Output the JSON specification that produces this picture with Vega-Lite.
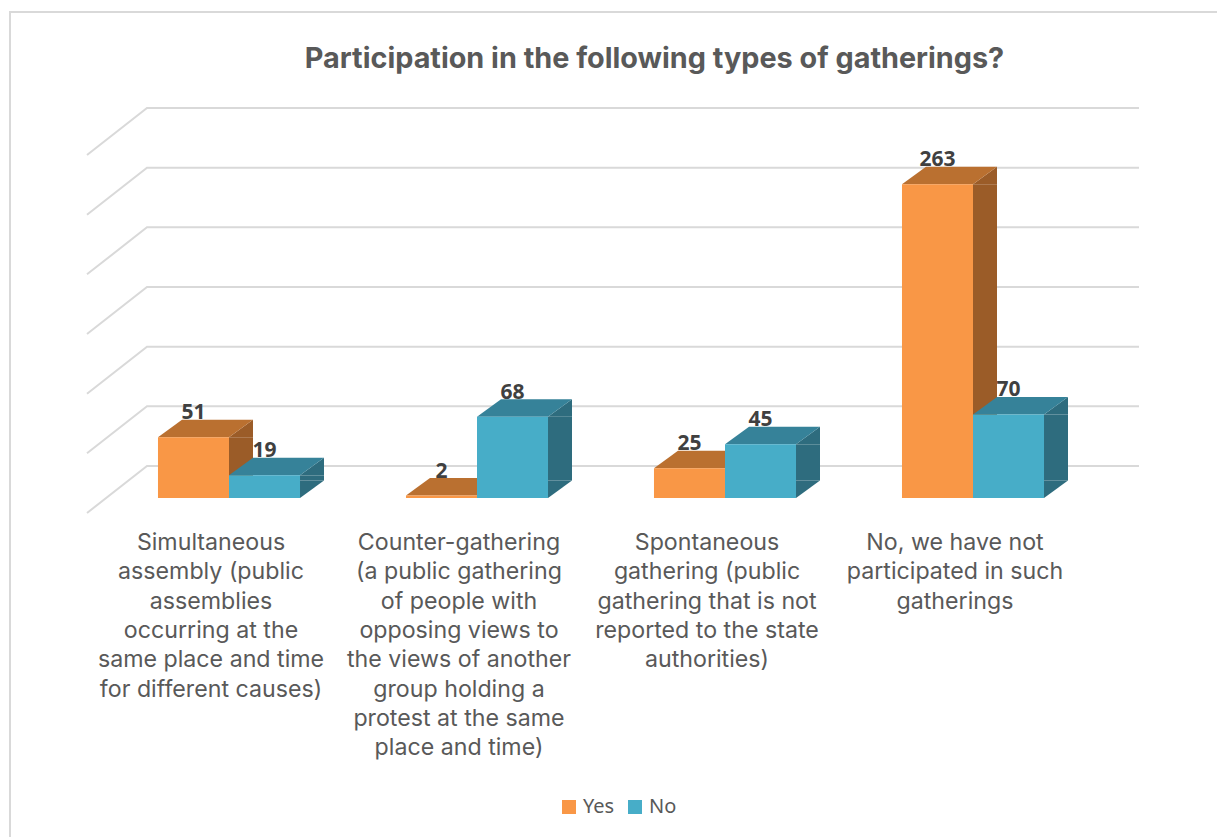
{
"$schema":"https://vega.github.io/schema/vega-lite/v6.json",
"width":1217,"height":520,"autosize":{"type":"none"},"padding":{"left":0,"top":0,"right":0,"bottom":317},
"background":"white",
"config":{"view":{"stroke":null}},
"title":{"text":"Participation in the following types of gatherings?","anchor":"middle","dx":46,"dy":97,"offset":0,"baseline":"alphabetic","font":"Inter","fontWeight":"bold","fontSize":28.8,"color":"#595959"},
"data":{"values":[
{"category":"Simultaneous|assembly (public|assemblies|occurring at the|same place and time|for different causes)","series":"Yes","value":51},
{"category":"Simultaneous|assembly (public|assemblies|occurring at the|same place and time|for different causes)","series":"No","value":19},
{"category":"Counter-gathering|(a public gathering|of people with|opposing views to|the views of another|group holding a|protest at the same|place and time)","series":"Yes","value":2},
{"category":"Counter-gathering|(a public gathering|of people with|opposing views to|the views of another|group holding a|protest at the same|place and time)","series":"No","value":68},
{"category":"Spontaneous|gathering (public|gathering that is not|reported to the state|authorities)","series":"Yes","value":25},
{"category":"Spontaneous|gathering (public|gathering that is not|reported to the state|authorities)","series":"No","value":45},
{"category":"No, we have not|participated in such|gatherings","series":"Yes","value":263},
{"category":"No, we have not|participated in such|gatherings","series":"No","value":70}
]},
"encoding":{
"x":{"field":"category","type":"nominal","sort":null,"scale":{"type":"band","range":[105,1097],"paddingInner":0,"paddingOuter":0},"axis":null},
"xOffset":{"field":"series","type":"nominal","sort":null,"scale":{"domain":["Yes","No"],"paddingInner":0,"paddingOuter":0.746}},
"y":{"field":"value","type":"quantitative","scale":{"domain":[0,300],"range":[498,140],"nice":false,"zero":false},"axis":null}
},
"layer":[
{"data":{"values":[{"level":0}]},
 "mark":{"type":"point","shape":"M-219,420 L-219,-486 L990,-486","size":4,"filled":false,"stroke":"#D9D9D9","strokeWidth":2,"opacity":1},
 "encoding":{"x":{"datum":"Simultaneous|assembly (public|assemblies|occurring at the|same place and time|for different causes)"},"xOffset":null,"y":{"field":"level","type":"quantitative"}}},
{"data":{"values":[{"level":0},{"level":50},{"level":100},{"level":150},{"level":200},{"level":250},{"level":300}]},
 "mark":{"type":"point","shape":"M-142,15 L-82,-32 L910,-32","size":4,"filled":false,"stroke":"#D9D9D9","strokeWidth":2,"opacity":1},
 "encoding":{"x":{"datum":"Simultaneous|assembly (public|assemblies|occurring at the|same place and time|for different causes)"},"xOffset":null,"y":{"field":"level","type":"quantitative"}}},

{"transform":[{"filter":"datum.series==='Yes'"}],"mark":{"type":"bar","color":"#9B5C28","width":24,"xOffset":12},"encoding":{"xOffset":null,"y2":{"datum":14.66}}},
{"transform":[{"filter":"datum.series==='Yes'"}],"mark":{"type":"point","shape":"M35.5,0 L59.5,0 L59.5,-17.5 Z","size":4,"filled":true,"color":"#9B5C28","opacity":1}},
{"transform":[{"filter":"datum.series==='Yes'"}],"mark":{"type":"point","shape":"M35.5,-17.5 L59.5,-17.5 L35.5,0 Z","size":4,"filled":true,"color":"#9B5C28","opacity":1},"encoding":{"y":{"datum":0}}},
{"transform":[{"filter":"datum.series==='Yes'"}],"mark":{"type":"point","shape":"M-35.5,0 L35.5,0 L59.5,-17.5 L-11.5,-17.5 Z","size":4,"filled":true,"color":"#BA7030","opacity":1}},

{"transform":[{"filter":"datum.series==='No'"}],"mark":{"type":"bar","color":"#2E6C7E","width":24,"xOffset":83},"encoding":{"xOffset":null,"y2":{"datum":14.66}}},
{"transform":[{"filter":"datum.series==='No'"}],"mark":{"type":"point","shape":"M35.5,0 L59.5,0 L59.5,-17.5 Z","size":4,"filled":true,"color":"#2E6C7E","opacity":1}},
{"transform":[{"filter":"datum.series==='No'"}],"mark":{"type":"point","shape":"M35.5,-17.5 L59.5,-17.5 L35.5,0 Z","size":4,"filled":true,"color":"#2E6C7E","opacity":1},"encoding":{"y":{"datum":0}}},
{"transform":[{"filter":"datum.series==='No'"}],"mark":{"type":"point","shape":"M-35.5,0 L35.5,0 L59.5,-17.5 L-11.5,-17.5 Z","size":4,"filled":true,"color":"#368299","opacity":1}},

{"mark":{"type":"bar"},
 "encoding":{
  "color":{"field":"series","type":"nominal","sort":null,"scale":{"domain":["Yes","No"],"range":["#F99746","#47ADC8"]},
   "legend":{"title":null,"orient":"none","legendX":559,"legendY":797,"direction":"horizontal","symbolType":"square","symbolSize":196,"symbolStrokeWidth":0,"labelFont":"Noto Sans","labelFontSize":20,"labelColor":"#595959","columnPadding":10,"labelOffset":4}}
 }},
{"mark":{"type":"text","dy":-24,"font":"Open Sans","fontWeight":"bold","fontSize":21,"color":"#404040"},
 "encoding":{"text":{"field":"value","type":"quantitative"}}},
{"transform":[{"filter":"datum.series==='Yes'"}],
 "mark":{"type":"text","lineBreak":"|","lineHeight":29.3,"baseline":"top","align":"center","dx":-18,"dy":34,"font":"Inter","fontSize":23.2,"color":"#595959"},
 "encoding":{"xOffset":null,"y":{"datum":0},"text":{"field":"category","type":"nominal"}}}
]
}
